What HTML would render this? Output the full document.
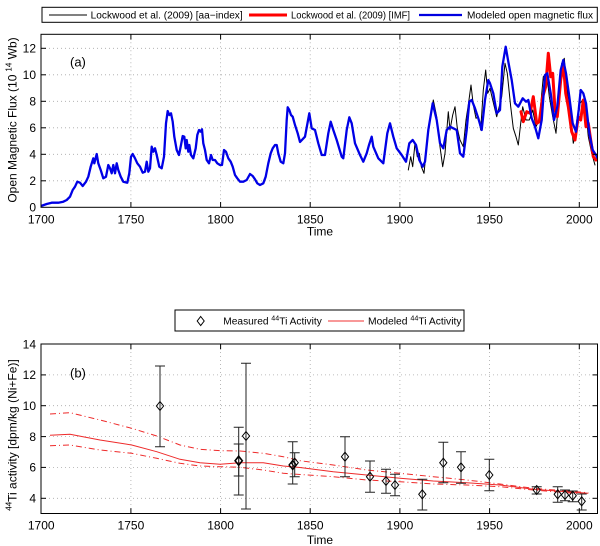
<!DOCTYPE html>
<html><head><meta charset="utf-8"><style>
html,body{margin:0;padding:0;background:#fff;}
svg{display:block;}
text{font-family:"Liberation Sans",Arial,sans-serif;fill:#000;}
</style></head><body>
<svg width="600" height="546" viewBox="0 0 600 546" xmlns="http://www.w3.org/2000/svg">
<defs>
<clipPath id="ca"><rect x="41" y="34.3" width="556.5" height="173"/></clipPath>
<clipPath id="cb"><rect x="41" y="344" width="556.5" height="169.5"/></clipPath>
</defs>

<!-- Legend A -->
<rect x="42" y="7.3" width="555.3" height="15" fill="#fff" stroke="#000" stroke-width="1"/>
<line x1="49" y1="15" x2="87" y2="15" stroke="#000" stroke-width="1"/>
<text x="90.7" y="18.7" font-size="10" textLength="152" lengthAdjust="spacingAndGlyphs">Lockwood et al. (2009) [aa−index]</text>
<line x1="249" y1="15" x2="287" y2="15" stroke="#f00" stroke-width="3"/>
<text x="291" y="18.7" font-size="10" textLength="119" lengthAdjust="spacingAndGlyphs">Lockwood et al. (2009) [IMF]</text>
<line x1="419" y1="15" x2="462" y2="15" stroke="#0000e0" stroke-width="2.2"/>
<text x="467" y="18.7" font-size="10" textLength="126" lengthAdjust="spacingAndGlyphs">Modeled open magnetic flux</text>

<!-- Panel A grid -->
<g stroke="#a8a8a8" stroke-width="0.8" stroke-dasharray="1,3">
<line x1="130.9" y1="34.3" x2="130.9" y2="207.3"/>
<line x1="220.6" y1="34.3" x2="220.6" y2="207.3"/>
<line x1="310.2" y1="34.3" x2="310.2" y2="207.3"/>
<line x1="399.9" y1="34.3" x2="399.9" y2="207.3"/>
<line x1="489.6" y1="34.3" x2="489.6" y2="207.3"/>
<line x1="579.3" y1="34.3" x2="579.3" y2="207.3"/>
<line x1="41" y1="180.8" x2="597.5" y2="180.8"/>
<line x1="41" y1="154.3" x2="597.5" y2="154.3"/>
<line x1="41" y1="127.8" x2="597.5" y2="127.8"/>
<line x1="41" y1="101.3" x2="597.5" y2="101.3"/>
<line x1="41" y1="74.8" x2="597.5" y2="74.8"/>
<line x1="41" y1="48.3" x2="597.5" y2="48.3"/>
</g>

<!-- Panel A data -->
<g clip-path="url(#ca)" fill="none" stroke-linejoin="round" stroke-linecap="round">
<polyline stroke="#000" stroke-width="1" points="408.3,170 410.7,156.7 412.7,166.7 415,143.3 417.3,156.7 419.3,153.3 421.3,166.7 424,173.3 426.7,146.7 429.3,125 433.3,100 436.7,116.7 440,146.7 442.7,166.7 445,153.3 448.3,111.7 450,130 452.7,115 455,106.7 457.3,128.3 460,140 463.3,146.7 466,120 468.3,105 471,85 473.3,105 476,118.3 478.3,116.7 480.7,130 483.3,90 485.7,70 487.7,93.3 490,88.3 492.7,100 496.7,116.7 501.7,96.7 505,63.3 507.3,73.3 510.7,106.7 513.3,128.3 516,136.7 518.3,145 520.7,123.3 522.7,106.7 526,120 529.3,120 532.7,110 536,126.7 539.3,120 543.3,76.7 546.7,73.3 549.3,96.7 552.7,116.7 556,133.3 558.3,103.3 561.7,63.3 564.3,58.3 566.7,86.7 570,113.3 573.3,143.3 576.7,130 580,103.3 582.7,100 585.3,106.7 588.3,136.7 591.7,153.3 595,165"/>
<polyline stroke="#f00" stroke-width="3" points="521,111.7 523.3,121.7 526.7,111.7 530,113.3 533.3,96.7 536.7,123.3 539.3,121.7 542.7,96.7 545.7,86.7 548.3,53.3 550.7,76.7 552.7,73.3 555,110 557.3,116.7 560.7,80 563.3,63.3 565.7,93.3 568.3,106.7 571.7,131.7 575,140 578.3,116.7 580.7,120 583.3,100 586,126.7 588.3,123.3 590.7,140 593.3,156.7 596,160"/>
<polyline stroke="#0000e6" stroke-width="2.3" points="41,206 46.7,204 51.7,202.7 58.3,202.7 63.3,201.7 66.7,200 70,196.7 72.7,190 75,186.7 77.3,181.7 80,182.7 82.7,186 86,181.7 88.3,176.7 90.7,166.7 93.3,158.3 94.3,163.3 96.7,154 98.3,163.3 100.7,170 103.3,178.3 106,176.7 108.3,165 110,168.3 111.7,173.3 113.3,165 115,173.3 116.7,163.3 118.3,170 120.7,176.7 123.3,181.7 127.3,182.7 129.3,173.3 131,156.7 132.7,154 135,158.3 137.3,163.3 140,166.7 142.7,172.7 145,171.7 146.7,161.7 148.3,171.7 150,168.3 151.7,146.7 153.3,151.7 155,148.3 156.7,155 159.3,166.7 161.7,168.3 164,156.7 166,123.3 167.7,111 169.3,115 171,113.3 172.7,121.7 174.3,136.7 176.7,150 179,155 181,145 182.7,136 184.3,136.7 185.7,148.3 186.7,140 188.3,151.7 189.3,145 191,155 193.3,158.3 195.7,148.3 197.3,135 199,130 200.7,131.7 202,129.3 203.3,143.3 205,150 206.7,160 209,163.3 211,155 212.7,160 215,160 217.3,163.3 220,165 222,165 224,150 226,151.7 228.3,158.3 230.7,161.7 232.7,166.7 235,175 237.3,178.3 240,181.7 243.3,181.7 246.7,180 250,174 252.7,176 255,179.3 257.3,183.3 260,185 263.3,183.3 265.7,176.7 268.3,163.3 270.7,153.3 272.7,148.3 275,145 276.7,145 278.3,153.3 280.7,161.7 283.3,163.3 285,153.3 286.7,120 287.7,107.3 289.3,110 291,115 292.7,116.7 295,125 297.7,133.3 300,142 305,136.7 309.3,113.3 311.7,128.3 315,130 318.3,143.3 321.7,155 325,155 328.3,133.3 330.7,121.7 333.3,130 336.7,140 341.7,156.7 343.3,158.3 346.7,130 349.3,117.3 351.7,123.3 355,143.3 360,155 363.3,161.7 366.7,153.3 369,145 371.7,136.7 373.3,146.7 378.3,158.3 383.3,163.3 387.3,133.3 390,123.3 393.3,136.7 396.7,148.3 401.7,155 406,161.7 409.3,143.3 412.7,140 416,145 419.3,160 422.7,166.7 425,161.7 428.3,130 432.7,103.3 436.7,120 440,143.3 443.3,148.3 446.7,130 450,126.7 453.3,128.3 456.7,130 460,153.3 463.3,156.7 466.7,130 469.3,101.7 471.7,100 475,108.3 478.3,118.3 481.7,130 485,100 488.3,80 490,83.3 493.3,93.3 496.7,113.3 500,110 502.3,66.7 505.7,46.7 508.3,61.7 511.7,80 515,103.3 518.3,106.7 522.7,98.3 526,101.7 528.3,100 531.7,118.3 535,126.7 538.3,138.3 541.7,120 545,75 547.3,73.3 550.7,93.3 554,120 557.3,106.7 560.7,70 563.3,60 566,73.3 569.3,96.7 572.7,123.3 576,131.7 578.7,110 580.7,90 583.3,93.3 586,103.3 589.3,133.3 592.7,150 596,155 597.7,158.3"/>
</g>

<!-- Panel A axes box and ticks -->
<rect x="41" y="34.3" width="556.5" height="173" fill="none" stroke="#000" stroke-width="1"/>
<g stroke="#000" stroke-width="1">
<line x1="130.9" y1="207.3" x2="130.9" y2="202"/><line x1="130.9" y1="34.3" x2="130.9" y2="39.6"/>
<line x1="220.6" y1="207.3" x2="220.6" y2="202"/><line x1="220.6" y1="34.3" x2="220.6" y2="39.6"/>
<line x1="310.2" y1="207.3" x2="310.2" y2="202"/><line x1="310.2" y1="34.3" x2="310.2" y2="39.6"/>
<line x1="399.9" y1="207.3" x2="399.9" y2="202"/><line x1="399.9" y1="34.3" x2="399.9" y2="39.6"/>
<line x1="489.6" y1="207.3" x2="489.6" y2="202"/><line x1="489.6" y1="34.3" x2="489.6" y2="39.6"/>
<line x1="579.3" y1="207.3" x2="579.3" y2="202"/><line x1="579.3" y1="34.3" x2="579.3" y2="39.6"/>
<line x1="41" y1="180.8" x2="46" y2="180.8"/><line x1="597.5" y1="180.8" x2="592.5" y2="180.8"/>
<line x1="41" y1="154.3" x2="46" y2="154.3"/><line x1="597.5" y1="154.3" x2="592.5" y2="154.3"/>
<line x1="41" y1="127.8" x2="46" y2="127.8"/><line x1="597.5" y1="127.8" x2="592.5" y2="127.8"/>
<line x1="41" y1="101.3" x2="46" y2="101.3"/><line x1="597.5" y1="101.3" x2="592.5" y2="101.3"/>
<line x1="41" y1="74.8" x2="46" y2="74.8"/><line x1="597.5" y1="74.8" x2="592.5" y2="74.8"/>
<line x1="41" y1="48.3" x2="46" y2="48.3"/><line x1="597.5" y1="48.3" x2="592.5" y2="48.3"/>
</g>
<g font-size="12" text-anchor="middle">
<text x="41.2" y="223.3">1700</text>
<text x="130.9" y="223.3">1750</text>
<text x="220.6" y="223.3">1800</text>
<text x="310.2" y="223.3">1850</text>
<text x="399.9" y="223.3">1900</text>
<text x="489.6" y="223.3">1950</text>
<text x="579.3" y="223.3">2000</text>
</g>
<g font-size="12" text-anchor="end">
<text x="36" y="211.6">0</text>
<text x="36" y="185.1">2</text>
<text x="36" y="158.6">4</text>
<text x="36" y="132.1">6</text>
<text x="36" y="105.6">8</text>
<text x="36" y="79.1">10</text>
<text x="36" y="52.6">12</text>
</g>
<text x="320" y="235.5" font-size="12" text-anchor="middle">Time</text>
<text x="70" y="66.5" font-size="13">(a)</text>
<text transform="translate(16.5,120) rotate(-90)" font-size="12" text-anchor="middle">Open Magnetic Flux (10<tspan font-size="8" dx="3" dy="-5">14</tspan><tspan dy="5"> Wb)</tspan></text>

<!-- Legend B -->
<rect x="175" y="310" width="289" height="21" fill="#fff" stroke="#000" stroke-width="1"/>
<polygon points="200.7,316.5 204.2,321 200.7,325.5 197.2,321" fill="none" stroke="#000" stroke-width="1"/>
<text x="223.3" y="324.7" font-size="10" textLength="98.5" lengthAdjust="spacingAndGlyphs">Measured <tspan font-size="7" dy="-4">44</tspan><tspan dy="4">Ti Activity</tspan></text>
<line x1="328" y1="321" x2="364" y2="321" stroke="#f03030" stroke-width="1"/>
<text x="368" y="324.7" font-size="10" textLength="93.5" lengthAdjust="spacingAndGlyphs">Modeled <tspan font-size="7" dy="-4">44</tspan><tspan dy="4">Ti Activity</tspan></text>

<!-- Panel B grid -->
<g stroke="#a8a8a8" stroke-width="0.8" stroke-dasharray="1,3">
<line x1="130.9" y1="344" x2="130.9" y2="513.5"/>
<line x1="220.6" y1="344" x2="220.6" y2="513.5"/>
<line x1="310.2" y1="344" x2="310.2" y2="513.5"/>
<line x1="399.9" y1="344" x2="399.9" y2="513.5"/>
<line x1="489.6" y1="344" x2="489.6" y2="513.5"/>
<line x1="579.3" y1="344" x2="579.3" y2="513.5"/>
<line x1="41" y1="498.3" x2="597.5" y2="498.3"/>
<line x1="41" y1="467.4" x2="597.5" y2="467.4"/>
<line x1="41" y1="436.6" x2="597.5" y2="436.6"/>
<line x1="41" y1="405.7" x2="597.5" y2="405.7"/>
<line x1="41" y1="374.9" x2="597.5" y2="374.9"/>
</g>

<!-- Panel B model lines -->
<g clip-path="url(#cb)" fill="none" stroke="#ee2a2a" stroke-width="1" stroke-linejoin="round">
<polyline points="50,435.3 70,434.3 100,440 131.7,445 156.7,451.7 180,459.3 200,462.7 220,464.3 240,462.7 263.3,462.7 283.3,466 300,467.5 333.3,471.7 366.7,475 400,478.3 433.3,481 466.7,482.7 500,485 533.3,489.3 566.7,491.7 588.3,493.3"/>
<polyline stroke-dasharray="6,3,1,3" points="50,414 70,412.7 100,420 131.7,428.3 156.7,436 180,445 200,449.3 220,450.7 240,451 263.3,453.3 283.3,456.7 300,460.7 333.3,465 366.7,470 400,473.3 433.3,476.7 466.7,480 500,484 533.3,488.3 566.7,491 588.3,492.7"/>
<polyline stroke-dasharray="6,3,1,3" points="50,445.7 70,445 100,450 131.7,453.3 156.7,458.3 180,463.3 200,466 220,466.7 240,467.3 263.3,470 283.3,473.3 300,474.5 333.3,476.7 366.7,480 400,481.7 433.3,484 466.7,485 500,486.7 533.3,490 566.7,492.7 588.3,494"/>
</g>

<!-- Panel B error bars and markers -->
<g stroke="#222" stroke-width="1" fill="none">
<path d="M160,366V446.7M155,366H165M155,446.7H165"/>
<path d="M238.7,427.3V495M233.7,427.3H243.7M233.7,495H243.7"/>
<path d="M238.7,444V476M233.7,444H243.7M233.7,476H243.7"/>
<path d="M246,363.3V509M241,363.3H251M241,509H251"/>
<path d="M292.7,441.7V484M287.7,441.7H297.7M287.7,484H297.7"/>
<path d="M294.7,452.7V476.7M289.7,452.7H299.7M289.7,476.7H299.7"/>
<path d="M345,436.7V476.7M340,436.7H350M340,476.7H350"/>
<path d="M370,461V492.3M365,461H375M365,492.3H375"/>
<path d="M386,469.3V493.3M381,469.3H391M381,493.3H391"/>
<path d="M395,474.3V495.7M390,474.3H400M390,495.7H400"/>
<path d="M422.3,479.3V510M417.3,479.3H427.3M417.3,510H427.3"/>
<path d="M443.3,442.3V482.7M438.3,442.3H448.3M438.3,482.7H448.3"/>
<path d="M461,451.7V483.3M456,451.7H466M456,483.3H466"/>
<path d="M489.3,459.3V490.7M484.3,459.3H494.3M484.3,490.7H494.3"/>
<path d="M536.7,486.7V494M531.7,486.7H541.7M531.7,494H541.7"/>
<path d="M557.7,486.7V502.3M552.7,486.7H562.7M552.7,502.3H562.7"/>
<path d="M565,490V500.7M560,490H570M560,500.7H570"/>
<path d="M572.7,491V501.7M567.7,491H577.7M567.7,501.7H577.7"/>
<path d="M581.7,494V510M576.7,494H586.7M576.7,510H586.7"/>
</g>
<g stroke="#000" stroke-width="1" fill="none">
<polygon points="160,401.5 163.6,406 160,410.5 156.4,406"/>
<polygon points="238.7,456.2 242.3,460.7 238.7,465.2 235.1,460.7" stroke-width="1.6"/>
<polygon points="246,431.5 249.6,436 246,440.5 242.4,436"/>
<polygon points="292.7,460.5 296.3,465 292.7,469.5 289.1,465" stroke-width="1.4"/>
<polygon points="294.7,458.2 298.3,462.7 294.7,467.2 291.1,462.7"/>
<polygon points="345,452.2 348.6,456.7 345,461.2 341.4,456.7"/>
<polygon points="370,472.2 373.6,476.7 370,481.2 366.4,476.7"/>
<polygon points="386,476.5 389.6,481 386,485.5 382.4,481"/>
<polygon points="395,480.5 398.6,485 395,489.5 391.4,485"/>
<polygon points="422.3,489.8 425.9,494.3 422.3,498.8 418.7,494.3"/>
<polygon points="443.3,458.2 446.9,462.7 443.3,467.2 439.7,462.7"/>
<polygon points="461,462.8 464.6,467.3 461,471.8 457.4,467.3"/>
<polygon points="489.3,470.5 492.9,475 489.3,479.5 485.7,475"/>
<polygon points="536.7,485.5 540.3,490 536.7,494.5 533.1,490"/>
<polygon points="557.7,489.8 561.3,494.3 557.7,498.8 554.1,494.3"/>
<polygon points="565,490.5 568.6,495 565,499.5 561.4,495"/>
<polygon points="572.7,491.2 576.3,495.7 572.7,500.2 569.1,495.7"/>
<polygon points="581.7,496.8 585.3,501.3 581.7,505.8 578.1,501.3"/>
</g>

<!-- Panel B axes box and ticks -->
<rect x="41" y="344" width="556.5" height="169.5" fill="none" stroke="#000" stroke-width="1"/>
<g stroke="#000" stroke-width="1">
<line x1="130.9" y1="513.5" x2="130.9" y2="508.2"/><line x1="130.9" y1="344" x2="130.9" y2="349.3"/>
<line x1="220.6" y1="513.5" x2="220.6" y2="508.2"/><line x1="220.6" y1="344" x2="220.6" y2="349.3"/>
<line x1="310.2" y1="513.5" x2="310.2" y2="508.2"/><line x1="310.2" y1="344" x2="310.2" y2="349.3"/>
<line x1="399.9" y1="513.5" x2="399.9" y2="508.2"/><line x1="399.9" y1="344" x2="399.9" y2="349.3"/>
<line x1="489.6" y1="513.5" x2="489.6" y2="508.2"/><line x1="489.6" y1="344" x2="489.6" y2="349.3"/>
<line x1="579.3" y1="513.5" x2="579.3" y2="508.2"/><line x1="579.3" y1="344" x2="579.3" y2="349.3"/>
<line x1="41" y1="498.3" x2="46" y2="498.3"/><line x1="597.5" y1="498.3" x2="592.5" y2="498.3"/>
<line x1="41" y1="467.4" x2="46" y2="467.4"/><line x1="597.5" y1="467.4" x2="592.5" y2="467.4"/>
<line x1="41" y1="436.6" x2="46" y2="436.6"/><line x1="597.5" y1="436.6" x2="592.5" y2="436.6"/>
<line x1="41" y1="405.7" x2="46" y2="405.7"/><line x1="597.5" y1="405.7" x2="592.5" y2="405.7"/>
<line x1="41" y1="374.9" x2="46" y2="374.9"/><line x1="597.5" y1="374.9" x2="592.5" y2="374.9"/>
</g>
<g font-size="12" text-anchor="middle">
<text x="41.2" y="529.3">1700</text>
<text x="130.9" y="529.3">1750</text>
<text x="220.6" y="529.3">1800</text>
<text x="310.2" y="529.3">1850</text>
<text x="399.9" y="529.3">1900</text>
<text x="489.6" y="529.3">1950</text>
<text x="579.3" y="529.3">2000</text>
</g>
<g font-size="12" text-anchor="end">
<text x="36" y="502.6">4</text>
<text x="36" y="471.7">6</text>
<text x="36" y="440.9">8</text>
<text x="36" y="410">10</text>
<text x="36" y="379.2">12</text>
<text x="36" y="348.3">14</text>
</g>
<text x="320" y="544" font-size="12" text-anchor="middle">Time</text>
<text x="70" y="377.5" font-size="13">(b)</text>
<text transform="translate(16.5,435) rotate(-90)" font-size="12" text-anchor="middle"><tspan font-size="8" dy="-5">44</tspan><tspan dy="5">Ti activity [dpm/kg (Ni+Fe)]</tspan></text>
</svg>
</body></html>
